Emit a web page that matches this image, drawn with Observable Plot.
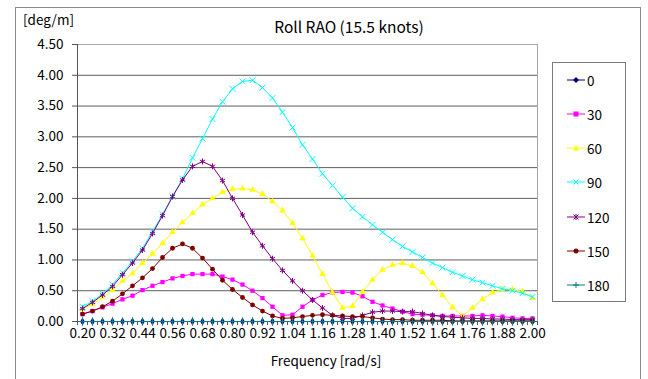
<!DOCTYPE html>
<html>
<head>
<meta charset="utf-8">
<script src="https://cdn.jsdelivr.net/npm/d3@7"></script>
<script src="https://cdn.jsdelivr.net/npm/@observablehq/plot@0.6"></script>
<style>
  html, body { margin: 0; padding: 0; background: #fff; overflow: hidden; }
  #wrap { position: relative; width: 648px; height: 379px; font-family: "Noto Sans CJK KR", "Noto Sans", sans-serif; color: #000; }
  #wrap svg.plot { position: absolute; left: 0; top: 0; }
  .abs { position: absolute; white-space: nowrap; line-height: 1; }
  #border { position: absolute; left: 15px; top: 7px; width: 626px; height: 400px; border: 1px solid #8a8a8a; box-sizing: border-box; }
  #legend { position: absolute; left: 552px; top: 62px; width: 74px; height: 240px; border: 1px solid #7a7a7a; box-sizing: border-box; background: #fff; }
  .li { position: absolute; left: 14px; height: 14px; display: flex; align-items: center; font-size: 13.5px; }
  .li svg { margin-right: 2px; }
</style>
</head>
<body>
<div id="wrap">
  <div id="border"></div>
</div>
<script>
// ---- data ----
const freq = [0.20,0.24,0.28,0.32,0.36,0.40,0.44,0.48,0.52,0.56,0.60,0.64,0.68,0.72,0.76,0.80,0.84,0.88,0.92,0.96,
              1.00,1.04,1.08,1.12,1.16,1.20,1.24,1.28,1.32,1.36,1.40,1.44,1.48,1.52,1.56,1.60,1.64,1.68,1.72,1.76,
              1.80,1.84,1.88,1.92,1.96,2.00];
const xTickLabels = [0.20,0.32,0.44,0.56,0.68,0.80,0.92,1.04,1.16,1.28,1.40,1.52,1.64,1.76,1.88,2.00];
const yTicks = [0,0.5,1.0,1.5,2.0,2.5,3.0,3.5,4.0,4.5];
const seriesNames = ["0","30","60","90","120","150","180"];

const s0   = [0,0,0,0,0,0,0,0,0,0,0,0,0,0,0,0,0,0,0,0,0,0,0,0,0,0,0,0,0,0,0,0,0,0,0,0,0,0,0,0,0,0,0,0,0,0];
const s30  = [0.12,0.17,0.23,0.29,0.36,0.42,0.51,0.58,0.64,0.70,0.74,0.77,0.77,0.77,0.73,0.68,0.60,0.50,0.38,0.24,
              0.10,0.11,0.24,0.35,0.43,0.47,0.48,0.47,0.41,0.32,0.26,0.21,0.16,0.12,0.11,0.10,0.09,0.09,0.09,0.09,
              0.10,0.09,0.08,0.06,0.05,0.05];
const s60  = [0.20,0.28,0.39,0.51,0.66,0.78,0.95,1.10,1.27,1.45,1.61,1.76,1.90,2.00,2.10,2.15,2.16,2.14,2.07,1.95,
              1.80,1.60,1.35,1.07,0.77,0.47,0.22,0.25,0.48,0.68,0.84,0.92,0.95,0.90,0.80,0.62,0.43,0.23,0.09,0.22,
              0.36,0.47,0.52,0.52,0.49,0.38];
const s90  = [0.24,0.33,0.45,0.60,0.79,0.98,1.19,1.46,1.74,2.03,2.32,2.66,2.97,3.29,3.57,3.78,3.90,3.92,3.80,3.63,
              3.40,3.15,2.87,2.64,2.40,2.21,2.02,1.84,1.70,1.57,1.45,1.33,1.22,1.13,1.04,0.95,0.875,0.80,0.74,0.68,
              0.63,0.58,0.53,0.50,0.46,0.40];
const s120 = [0.21,0.31,0.43,0.57,0.76,0.95,1.16,1.43,1.72,2.03,2.30,2.52,2.60,2.52,2.29,2.00,1.73,1.45,1.23,1.02,
              0.83,0.66,0.50,0.35,0.22,0.10,0.05,0.05,0.10,0.15,0.17,0.17,0.16,0.16,0.13,0.10,0.08,0.07,0.06,0.05,
              0.05,0.04,0.04,0.03,0.03,0.03];
const s150 = [0.12,0.17,0.24,0.33,0.45,0.58,0.71,0.86,1.04,1.19,1.26,1.19,1.03,0.85,0.67,0.52,0.39,0.27,0.17,0.09,
              0.05,0.06,0.08,0.10,0.11,0.10,0.09,0.08,0.08,0.06,0.04,0.03,0.03,0.02,0.02,0.02,0.02,0.01,0.01,0.01,
              0.01,0.01,0.01,0.01,0.01,0.01];
const s180 = [0,0,0,0,0,0,0,0,0,0,0,0,0,0,0,0,0,0,0,0,0,0,0,0,0,0,0,0,0,0,0,0,0,0,0,0,0,0,0,0,0,0,0,0,0,0];
const seriesValues = [s0, s30, s60, s90, s120, s150, s180];

// ---- styles ----
const colors  = ["#000080","#ff00ff","#ffff00","#00ffff","#800080","#800000","#008080"];
const symbols = ["diamond","square","triangle","times","asterisk","circle","plus"];
const filled  = new Set(["0","30","60","150"]);

const rows = seriesNames.flatMap((s, k) => freq.map((f, i) => ({f, v: seriesValues[k][i], s})));
const boundaries = freq.map(f => +(f - 0.02).toFixed(2)).concat([2.02]);

const seriesMarks = seriesNames.flatMap(s => {
  const d = rows.filter(r => r.s === s);
  return [
    Plot.line(d, {x: "f", y: "v", stroke: "s", strokeWidth: 1}),
    filled.has(s)
      ? Plot.dot(d, {x: "f", y: "v", symbol: "s", fill: "s", r: 2.4})
      : Plot.dot(d, {x: "f", y: "v", symbol: "s", stroke: "s", r: 2.8, strokeWidth: 1})
  ];
});

const chart = Plot.plot({
  width: 648, height: 379,
  marginLeft: 77, marginRight: 111, marginTop: 44, marginBottom: 58,
  style: {fontFamily: '"Noto Sans CJK KR", "Noto Sans", sans-serif', fontSize: "13px", color: "#000", background: "transparent"},
  x: {domain: [0.18, 2.02]},
  y: {domain: [0, 4.5]},
  color: {domain: seriesNames, range: colors},
  symbol: {domain: seriesNames, range: symbols},
  marks: [
    Plot.ruleY(yTicks.filter(v => v > 0 && v < 4.5), {stroke: "#5e5e5e", strokeWidth: 1}),
    Plot.ruleY([4.5], {stroke: "#a6a6a6"}),
    Plot.ruleX([2.02], {stroke: "#a6a6a6"}),
    Plot.axisY(yTicks, {tickFormat: d => d.toFixed(2), tickSize: 5, tickPadding: 9, label: null, stroke: "#555", fontSize: 13.5}),
    Plot.axisX(xTickLabels, {tickFormat: d => d.toFixed(2), tickSize: 0, tickPadding: 7, label: null, fontSize: 13.5}),
    Plot.axisX(boundaries, {tickSize: 4, fill: "none", label: null, stroke: "#555"}),
    Plot.ruleX([0.18], {stroke: "#555"}),
    Plot.ruleY([0], {stroke: "#555"}),
    ...seriesMarks
  ]
});
chart.classList.add("plot");
const wrap = document.getElementById("wrap");
wrap.appendChild(chart);

// ---- texts ----
function addText(txt, x, y, size, anchor) {
  const el = document.createElement("div");
  el.className = "abs";
  el.textContent = txt;
  el.style.fontSize = size + "px";
  el.style.left = x + "px";
  el.style.top = y + "px";
  el.style.transform = anchor === "middle" ? "translate(-50%,-50%)" : "translate(0,-50%)";
  wrap.appendChild(el);
}
addText("Roll RAO (15.5 knots)", 349, 27, 15.5, "middle");
addText("[deg/m]", 23, 20, 13.5, "start");
addText("Frequency [rad/s]", 326, 361, 13.5, "middle");

// ---- legend ----
const legend = document.createElement("div");
legend.id = "legend";
const legendY = [17, 50.5, 85, 119, 153.5, 187.5, 222];
seriesNames.forEach((s, k) => {
  const item = document.createElement("div");
  item.className = "li";
  item.style.top = (legendY[k] - 7) + "px";
  const c = colors[k];
  let m = "";
  if (symbols[k] === "diamond") m = `<path d="M9,3 L12,6 L9,9 L6,6Z" fill="${c}"/>`;
  if (symbols[k] === "square") m = `<rect x="6.5" y="3.5" width="5" height="5" fill="${c}"/>`;
  if (symbols[k] === "triangle") m = `<path d="M9,3 L12,8.5 L6,8.5Z" fill="${c}"/>`;
  if (symbols[k] === "circle") m = `<circle cx="9" cy="6" r="2.5" fill="${c}"/>`;
  if (symbols[k] === "times") m = `<path d="M6.5,3.5 L11.5,8.5 M11.5,3.5 L6.5,8.5" stroke="${c}"/>`;
  if (symbols[k] === "asterisk") m = `<path d="M6.5,3.5 L11.5,8.5 M11.5,3.5 L6.5,8.5 M9,3 L9,9" stroke="${c}"/>`;
  if (symbols[k] === "plus") m = `<path d="M6,6 L12,6 M9,3 L9,9" stroke="${c}"/>`;
  item.innerHTML = `<svg width="18" height="12"><line x1="0" y1="6" x2="18" y2="6" stroke="${c}" stroke-width="1"/>${m}</svg><span>${s}</span>`;
  legend.appendChild(item);
});
wrap.appendChild(legend);
</script>
</body>
</html>
